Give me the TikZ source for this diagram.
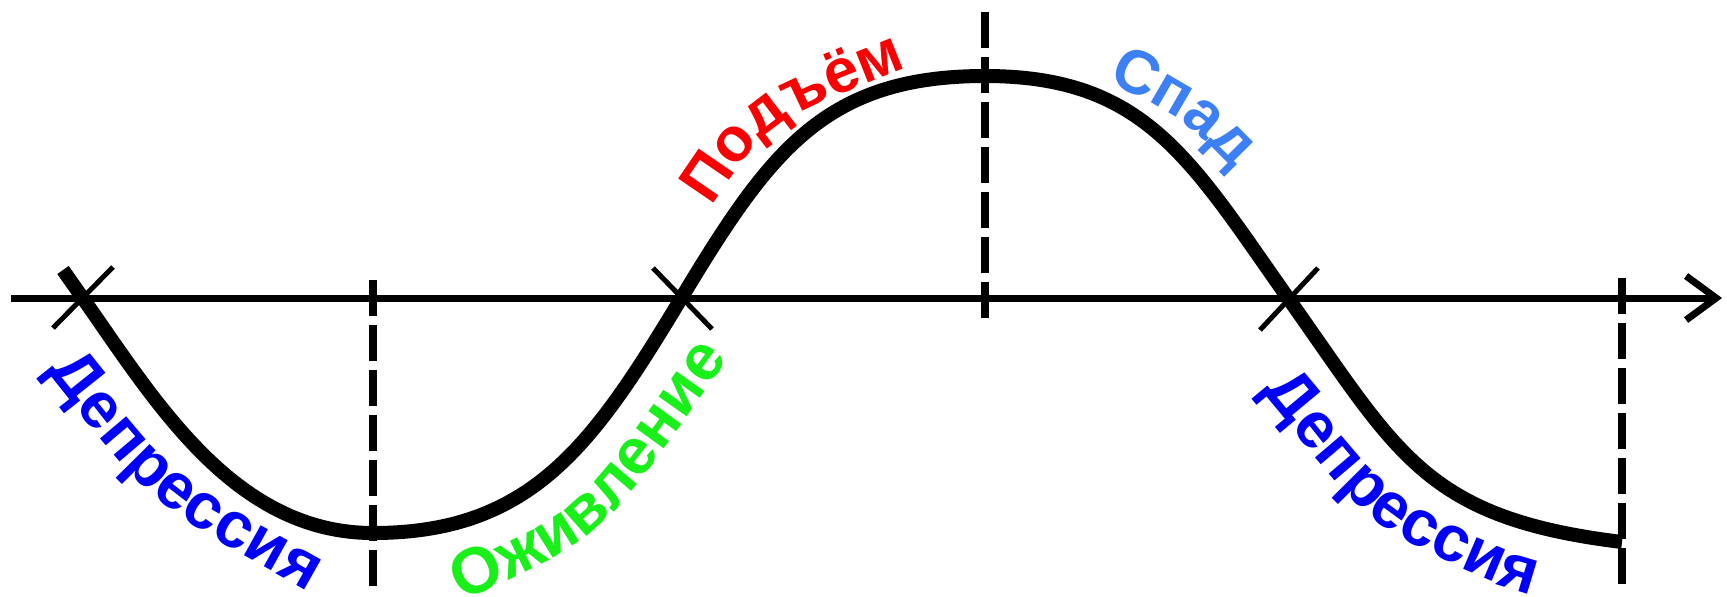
\documentclass[tikz,border=0pt]{standalone}
\usepackage{fontspec}
\setmainfont{Liberation Sans}
\usetikzlibrary{arrows.meta,decorations.text,calc}
\definecolor{depblue}{RGB}{0,0,250}
\definecolor{revgreen}{RGB}{25,240,25}
\definecolor{upred}{RGB}{250,0,0}
\definecolor{downblue}{RGB}{61,127,245}
\begin{document}
\begin{tikzpicture}[x=0.5pt,y=-0.5pt,
  curveline/.style={line width=7pt,line cap=butt,line join=round},
  axisline/.style={line width=3.5pt,-{Straight Barb[length=15pt,width=22pt]}},
  guide/.style={line width=4pt,dash pattern=on 18pt off 4.5pt},
  crossmark/.style={line width=2.5pt},
  lbl/.style n args={3}{decorate,decoration={text along path,text align=center,
     text={|\fontsize{#3}{#3}\selectfont\bfseries\color{#1}|#2}}}]
\useasboundingbox (0,0) rectangle (1727,596);
% key points
\coordinate (a0) at (11,298);
\coordinate (a1) at (1722,298);
\coordinate (s0) at (63,270);
\coordinate (z1) at (82,297);
\coordinate (m1) at (373,533);
\coordinate (z2) at (682,297);
\coordinate (m2) at (985,76);
\coordinate (z3) at (1288,298);
\coordinate (e1) at (1622,542);
% axis
\draw[axisline] (a0) -- (a1);
% guides
\coordinate (g1t) at (373,280); \coordinate (g1b) at (373,594);
\coordinate (g2t) at (985,12);  \coordinate (g2b) at (985,326);
\coordinate (g3t) at (1622,278); \coordinate (g3b) at (1622,592);
\draw[guide] (g1t) -- (g1b);
\draw[guide] (g2t) -- (g2b);
\draw[guide] (g3t) -- (g3b);
% cross marks
\draw[crossmark] ($(z1)+(-29,31)$) -- ($(z1)+(31,-30)$);
\draw[crossmark] ($(z2)+(-29,-29)$) -- ($(z2)+(30,32)$);
\draw[crossmark] ($(z3)+(-28,32)$) -- ($(z3)+(30,-30)$);
% main curve
\draw[curveline] (s0) -- (z1) .. controls (154,399) and (233,533) .. (m1)
  .. controls (533,533) and (594,443) .. (z2)
  .. controls (770,151) and (825,76) .. (m2)
  .. controls (1145,76) and (1190,159) .. (z3)
  .. controls (1398,453) and (1424,518) .. (e1);
% labels
\path[lbl={depblue}{Депрессия}{32.5},shift={(5,-6)}] (28,356) -- (51,389) .. controls (71.5,413.7) and (111.2,470.5) .. (151,504)
   .. controls (190.8,537.5) and (260.7,573.2) .. (290,590) -- (327,605);
\path[lbl={revgreen}{Оживление}{32.5},shift={(-3,-2)}] (440.4,611.6) -- (478,598) .. controls (505.3,583.7) and (563,563.7) .. (604,526)
   .. controls (645,488.3) and (700.4,403.3) .. (724,372) -- (745.7,338.4);
\path[lbl={upred}{Подъём}{31}] (693.2,233.5) -- (715,200) .. controls (728.9,182.2) and (746,149.3) .. (776.8,126.5)
   .. controls (807.6,103.7) and (873,82) .. (900,70) -- (938.9,60.6);
\path[lbl={downblue}{Спад}{31},shift={(11,11)}] (1059.5,53.7) -- (1096,70) .. controls (1114.2,79.3) and (1147.3,94.4) .. (1168.5,109.2)
   .. controls (1189.7,124) and (1209.6,145.6) .. (1223,159) -- (1248.8,189.6);
\path[lbl={depblue}{Депрессия}{32.5},shift={(3,-4)}] (1247.7,377.5) -- (1271,410) .. controls (1292,434.6) and (1334,494.6) .. (1373.8,525.3)
   .. controls (1413.6,556) and (1480.9,580.6) .. (1510,594) -- (1548.3,605.6);
\end{tikzpicture}
\end{document}
